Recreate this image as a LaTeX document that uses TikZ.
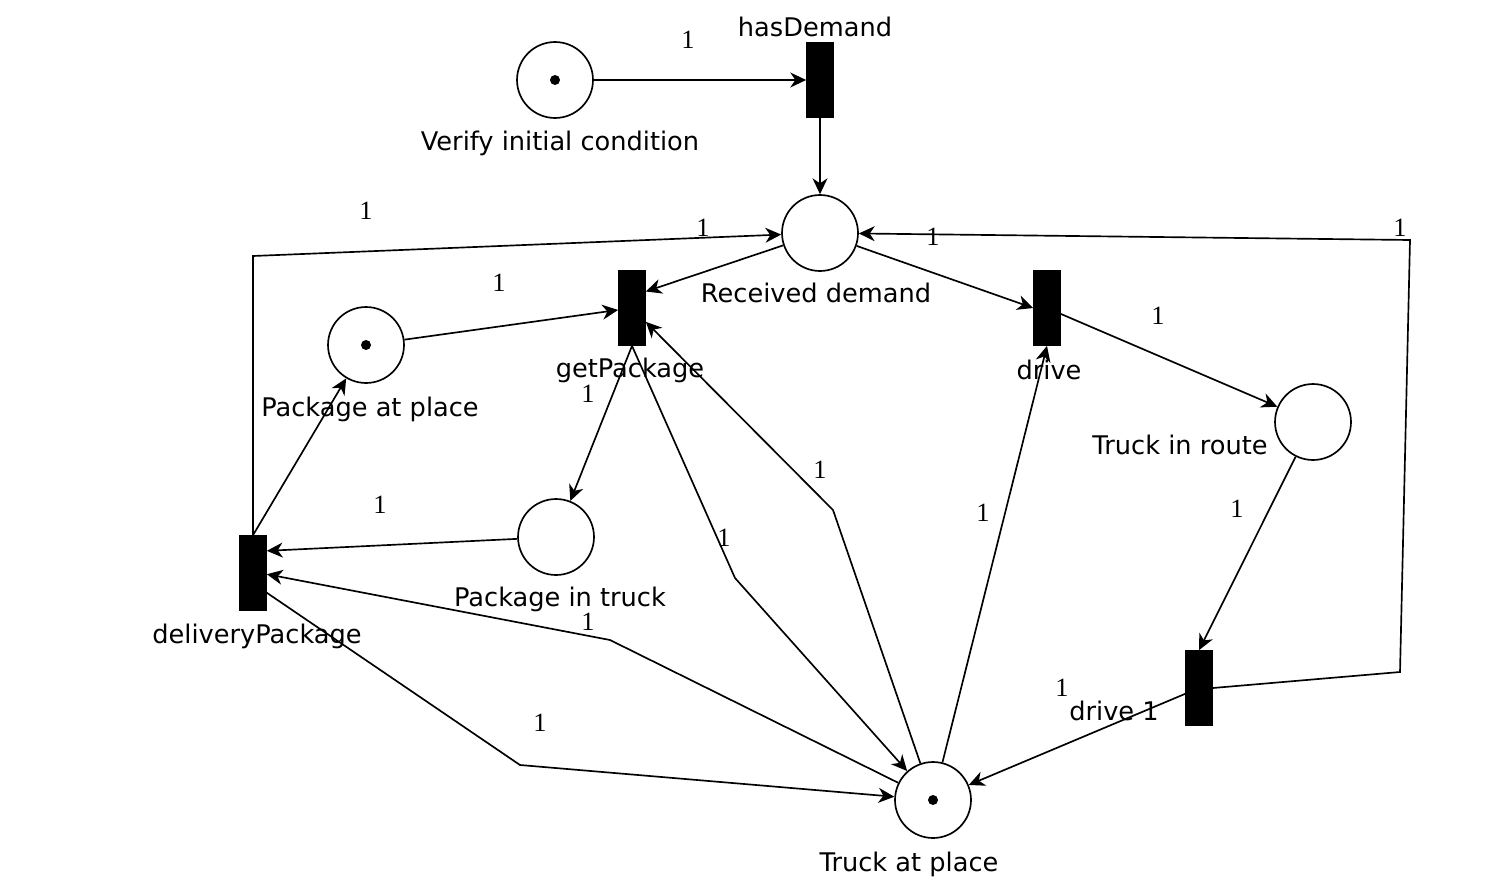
\documentclass[tikz,border=0pt]{standalone}
\usepackage{fontspec}
\setsansfont{DejaVu Sans}
\newfontfamily\wtfont{Liberation Serif}
\usetikzlibrary{arrows.meta}

\begin{document}
\begin{tikzpicture}[x=0.02cm,y=-0.02cm,
  place/.style={draw, circle, line width=0.95pt, minimum size=1.52cm, inner sep=0pt},
  trans/.style={draw, fill=black, rectangle, minimum width=0.54cm, minimum height=1.5cm, inner sep=0pt},
  lbl/.style={anchor=base, inner sep=0pt, font=\sffamily\fontsize{14.6}{17}\selectfont},
  wt/.style={inner sep=0pt, font=\wtfont\fontsize{15}{17}\selectfont},
  arcline/.style={line width=0.95pt, -{Stealth[length=9pt, width=8.5pt, inset=2.8pt]}}]

\useasboundingbox (0,0) rectangle (1490,889);

\node[place] (vic) at (555,80) {};
\node[place] (rd) at (820,233) {};
\node[place] (pap) at (366,345) {};
\node[place] (tir) at (1313,422) {};
\node[place] (pit) at (556,537) {};
\node[place] (tap) at (933,800) {};

\fill (vic) circle[radius=0.1cm];
\fill (pap) circle[radius=0.1cm];
\fill (tap) circle[radius=0.1cm];

\node[trans] (hd) at (820,80) {};
\node[trans] (gp) at (632,308) {};
\node[trans] (dr) at (1047,308) {};
\node[trans] (dp) at (253,573) {};
\node[trans] (d1) at (1199,688) {};

\node[lbl] (hd-l) at (815,36) {hasDemand};
\node[lbl] (vic-l) at (560,150) {Verify initial condition};
\node[lbl] (rd-l) at (816,302) {Received demand};
\node[lbl] (pap-l) at (370,416) {Package at place};
\node[lbl] (gp-l) at (630,377) {getPackage};
\node[lbl] (dr-l) at (1049,379) {drive};
\node[lbl] (tir-l) at (1180,454) {Truck in route};
\node[lbl] (pit-l) at (560,606) {Package in truck};
\node[lbl] (dp-l) at (257,643) {deliveryPackage};
\node[lbl] (d1-l) at (1114,720) {drive 1};
\node[lbl] (tap-l) at (909,871) {Truck at place};

\coordinate (c1) at (253,256);
\coordinate (c2) at (1400,672);
\coordinate (c3) at (1410,240);
\coordinate (c4) at (833,510);
\coordinate (c5) at (735,578);
\coordinate (c6) at (610,640);
\coordinate (c7) at (520,765);

\draw[arcline] (vic) -- (hd);
\draw[arcline] (hd) -- (rd);
\draw[arcline] (rd) -- (gp.50);
\draw[arcline] (pap) -- (gp);
\draw[arcline] (gp.south) -- (pit);
\draw[arcline] (pit) -- (dp.58);
\draw[arcline] (dp.north) -- (pap);
\draw[arcline] (dp.north) -- (c1) -- (rd);
\draw[arcline] (rd) -- (dr.west);
\draw[arcline] (dr) -- (tir);
\draw[arcline] (tir) -- (d1.north);
\draw[arcline] (d1.east) -- (c2) -- (c3) -- (rd);
\draw[arcline] (d1) -- (tap);
\draw[arcline] (tap) -- (dr.south);
\draw[arcline] (tap) -- (c4) -- (gp.-45);
\draw[arcline] (gp.south) -- (c5) -- (tap);
\draw[arcline] (tap) -- (c6) -- (dp.-5);
\draw[arcline] (dp.-55) -- (c7) -- (tap);

\node[wt] (w1) at (688,40) {1};
\node[wt] (w2) at (366,211) {1};
\node[wt] (w3) at (703,228) {1};
\node[wt] (w4) at (499,283) {1};
\node[wt] (w5) at (588,394) {1};
\node[wt] (w6) at (933,237) {1};
\node[wt] (w7) at (1400,228) {1};
\node[wt] (w8) at (1158,316) {1};
\node[wt] (w9) at (1237,509) {1};
\node[wt] (w10) at (380,505) {1};
\node[wt] (w11) at (588,622) {1};
\node[wt] (w12) at (820,470) {1};
\node[wt] (w13) at (724,538) {1};
\node[wt] (w14) at (983,513) {1};
\node[wt] (w15) at (540,723) {1};
\node[wt] (w16) at (1062,688) {1};

\end{tikzpicture}
\end{document}
